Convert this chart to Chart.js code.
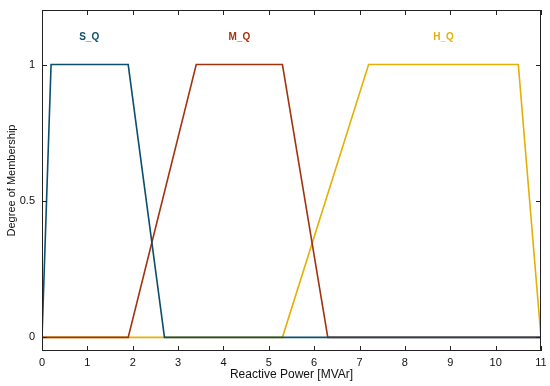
<!DOCTYPE html>
<html>
<head>
<meta charset="utf-8">
<script src="https://cdn.jsdelivr.net/npm/chart.js@4"></script>
<style>
  html, body { margin: 0; padding: 0; background: #fff; }
  #wrap { width: 550px; height: 386px; }
</style>
</head>
<body>
<div id="wrap"><canvas id="myChart" width="550" height="386"></canvas></div>
<script>
// membership functions (breakpoints)
const sqX = [0, 0.2, 1.9, 2.7, 11];
const sqY = [0, 1, 1, 0, 0];
const mqX = [0, 1.9, 3.4, 5.3, 6.3, 11];
const mqY = [0, 0, 1, 1, 0, 0];
const hqX = [0, 5.3, 7.2, 10.5, 11];
const hqY = [0, 0, 1, 1, 0];

const names = ['S_Q', 'M_Q', 'H_Q'];
const labelX = [1.04, 4.35, 8.85];
const labelY = 1.1;
const colors = ['#0b4f6c', '#a2330f', '#e3b105'];

const xTicks = [0, 1, 2, 3, 4, 5, 6, 7, 8, 9, 10, 11];
const yTicks = [0, 0.5, 1];

const pts = (xs, ys) => xs.map((x, i) => ({ x: x, y: ys[i] }));
const fontFam = '"Liberation Sans", Arial, sans-serif';

// frame + inward ticks + curve labels
const framePlugin = {
    id: 'frame',
    afterDatasetsDraw(chart) {
        const { ctx, chartArea: a, scales } = chart;
        ctx.save();
        ctx.strokeStyle = '#222';
        ctx.lineWidth = 1;
        ctx.strokeRect(a.left + 0.5, a.top + 0.5, a.right - a.left - 1, a.bottom - a.top - 1);
        ctx.beginPath();
        xTicks.forEach(v => {
            const px = Math.round(scales.x.getPixelForValue(v)) + 0.5;
            ctx.moveTo(px, a.bottom); ctx.lineTo(px, a.bottom - 5);
            ctx.moveTo(px, a.top); ctx.lineTo(px, a.top + 5);
        });
        yTicks.forEach(v => {
            const py = Math.round(scales.y.getPixelForValue(v)) + 0.5;
            ctx.moveTo(a.left, py); ctx.lineTo(a.left + 5, py);
            ctx.moveTo(a.right, py); ctx.lineTo(a.right - 5, py);
        });
        ctx.stroke();
        ctx.font = 'bold 10px ' + fontFam;
        ctx.textAlign = 'center';
        ctx.textBaseline = 'middle';
        names.forEach((n, i) => {
            ctx.fillStyle = colors[i];
            ctx.fillText(n, scales.x.getPixelForValue(labelX[i]), scales.y.getPixelForValue(labelY));
        });
        ctx.restore();
    }
};

const ctx = document.getElementById('myChart');
new Chart(ctx, {
    type: 'line',
    data: {
        datasets: [
            { label: names[0], data: pts(sqX, sqY), borderColor: colors[0] },
            { label: names[1], data: pts(mqX, mqY), borderColor: colors[1] },
            { label: names[2], data: pts(hqX, hqY), borderColor: colors[2] }
        ]
    },
    options: {
        responsive: false,
        animation: false,
        parsing: false,
        layout: { padding: { top: 10, right: 9, left: 0, bottom: 0 } },
        elements: {
            line: { borderWidth: 1.6, tension: 0 },
            point: { radius: 0 }
        },
        plugins: {
            legend: { display: false },
            tooltip: { enabled: false }
        },
        scales: {
            x: {
                type: 'linear',
                min: 0,
                max: 11,
                afterBuildTicks: s => { s.ticks = xTicks.map(v => ({ value: v })); },
                afterFit: s => { s.height = 35; s.paddingLeft = 0; s.paddingRight = 0; },
                grid: { display: false, drawTicks: false },
                border: { display: false },
                ticks: {
                    padding: 5,
                    color: '#111',
                    callback: v => String(v),
                    font: { family: fontFam, size: 11 }
                },
                title: {
                    display: true,
                    text: 'Reactive Power [MVAr]',
                    color: '#111',
                    padding: { top: 0, bottom: 4 },
                    font: { family: fontFam, size: 12 }
                }
            },
            y: {
                min: -0.05,
                max: 1.2,
                afterBuildTicks: s => { s.ticks = yTicks.map(v => ({ value: v })); },
                afterFit: s => { s.width = 42; s.paddingTop = 0; s.paddingBottom = 0; },
                grid: { display: false, drawTicks: false },
                border: { display: false },
                ticks: {
                    padding: 7,
                    color: '#111',
                    callback: v => String(v),
                    font: { family: fontFam, size: 11 }
                },
                title: {
                    display: true,
                    text: 'Degree of Membership',
                    color: '#111',
                    padding: { top: 5, bottom: 0 },
                    font: { family: fontFam, size: 11 }
                }
            }
        }
    },
    plugins: [framePlugin]
});
</script>
</body>
</html>
